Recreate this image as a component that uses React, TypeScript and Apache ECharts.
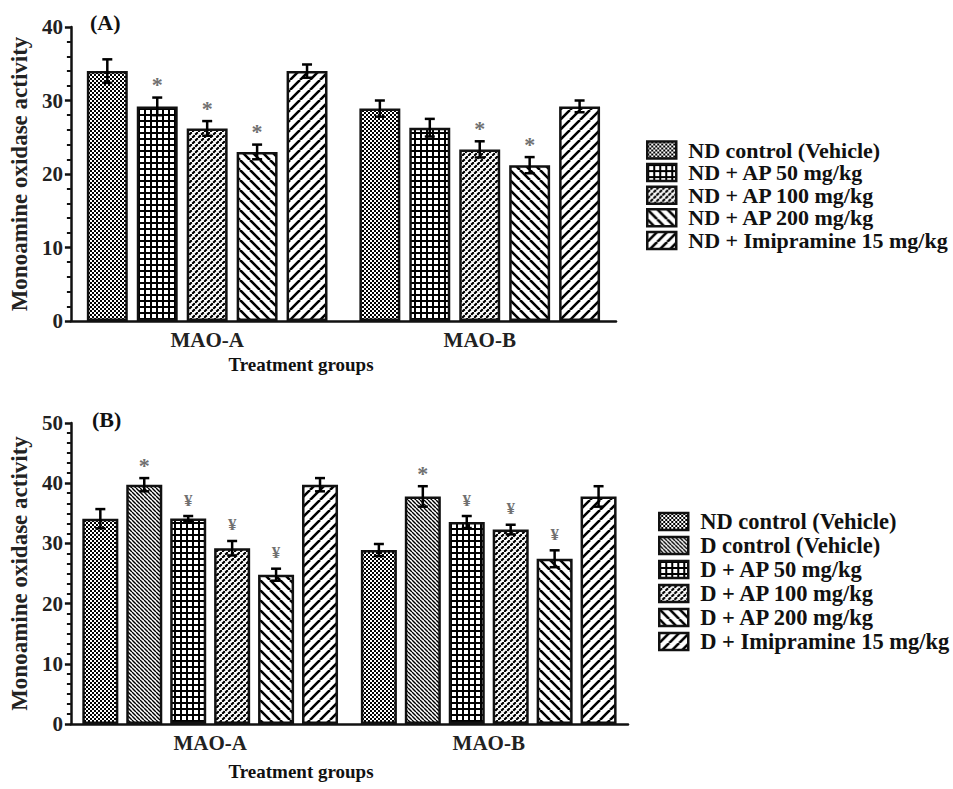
import React, { useEffect, useRef } from 'react';
import * as echarts from 'echarts';

const FONT = '"Liberation Serif", "Times New Roman", serif';

const categories = ['MAO-A', 'MAO-B'];

// Panel (A)
const yTicksA = [0, 10, 20, 30, 40];
const namesA = [
  'ND control (Vehicle)',
  'ND + AP 50 mg/kg',
  'ND + AP 100 mg/kg',
  'ND + AP 200 mg/kg',
  'ND + Imipramine 15 mg/kg',
];
const patternsA = ['ndCtrl', 'ap50', 'ap100', 'ap200', 'imip'];
const meanA_ndControl = [34.0, 28.9];
const meanA_ap50 = [29.2, 26.3];
const meanA_ap100 = [26.2, 23.35];
const meanA_ap200 = [23.0, 21.2];
const meanA_imip = [34.0, 29.2];
const semA_ndControl = [1.6, 1.1];
const semA_ap50 = [1.2, 1.2];
const semA_ap100 = [1.0, 1.1];
const semA_ap200 = [1.0, 1.1];
const semA_imip = [0.9, 0.8];
const sigA_ndControl = ['', ''];
const sigA_ap50 = ['*', ''];
const sigA_ap100 = ['*', '*'];
const sigA_ap200 = ['*', '*'];
const sigA_imip = ['', ''];

// Panel (B)
const yTicksB = [0, 10, 20, 30, 40, 50];
const namesB = [
  'ND control (Vehicle)',
  'D control (Vehicle)',
  'D + AP 50 mg/kg',
  'D + AP 100 mg/kg',
  'D + AP 200 mg/kg',
  'D + Imipramine 15 mg/kg',
];
const patternsB = ['ndCtrl', 'dCtrl', 'ap50', 'ap100', 'ap200', 'imip'];
const meanB_ndControl = [34.1, 28.9];
const meanB_dControl = [39.75, 37.8];
const meanB_ap50 = [34.15, 33.55];
const meanB_ap100 = [29.2, 32.3];
const meanB_ap200 = [24.8, 27.45];
const meanB_imip = [39.75, 37.8];
const semB_ndControl = [1.6, 1.0];
const semB_dControl = [1.1, 1.7];
const semB_ap50 = [0.4, 1.0];
const semB_ap100 = [1.2, 0.8];
const semB_ap200 = [1.0, 1.4];
const semB_imip = [1.1, 1.7];
const sigB_ndControl = ['', ''];
const sigB_dControl = ['*', '*'];
const sigB_ap50 = ['¥', '¥'];
const sigB_ap100 = ['¥', '¥'];
const sigB_ap200 = ['¥', '¥'];
const sigB_imip = ['', ''];

const meansA = [meanA_ndControl, meanA_ap50, meanA_ap100, meanA_ap200, meanA_imip];
const semsA = [semA_ndControl, semA_ap50, semA_ap100, semA_ap200, semA_imip];
const sigsA = [sigA_ndControl, sigA_ap50, sigA_ap100, sigA_ap200, sigA_imip];
const meansB = [meanB_ndControl, meanB_dControl, meanB_ap50, meanB_ap100, meanB_ap200, meanB_imip];
const semsB = [semB_ndControl, semB_dControl, semB_ap50, semB_ap100, semB_ap200, semB_imip];
const sigsB = [sigB_ndControl, sigB_dControl, sigB_ap50, sigB_ap100, sigB_ap200, sigB_imip];

function diag(c: CanvasRenderingContext2D, s: number, lw: number, dir: string, color = '#000') {
  c.lineWidth = lw;
  c.strokeStyle = color;
  c.beginPath();
  for (const k of [-s, 0, s]) {
    if (dir === '/') {
      c.moveTo(k, s);
      c.lineTo(k + s, 0);
    } else {
      c.moveTo(k, 0);
      c.lineTo(k + s, s);
    }
  }
  c.stroke();
}

function makePatterns(): Record<string, any> {
  const mk = (w: number, h: number, draw: (c: CanvasRenderingContext2D) => void) => {
    const cv = document.createElement('canvas');
    cv.width = w;
    cv.height = h;
    const c = cv.getContext('2d') as CanvasRenderingContext2D;
    c.fillStyle = '#fff';
    c.fillRect(0, 0, w, h);
    c.fillStyle = '#000';
    draw(c);
    return { image: cv, repeat: 'repeat', imageWidth: w, imageHeight: h };
  };
  return {
    ndCtrl: mk(4, 4, (c) => {
      c.fillRect(0, 0, 2, 2);
      c.fillRect(2, 2, 2, 2);
    }),
    ap50: mk(6, 6, (c) => {
      c.fillRect(0, 0, 6, 2);
      c.fillRect(0, 0, 2, 6);
    }),
    ap100: mk(6, 6, (c) => {
      diag(c, 6, 2.2, '/');
      diag(c, 6, 0.9, '\\', '#fff');
    }),
    ap200: mk(10, 10, (c) => diag(c, 10, 2.6, '\\')),
    imip: mk(10, 10, (c) => diag(c, 10, 2.6, '/')),
    dCtrl: mk(4, 4, (c) => diag(c, 4, 1.4, '\\')),
  };
}

function errorRenderer(idx: number, n: number, catGap: number, barGap: number, sig: string[]) {
  return (params: any, api: any) => {
    const cat = api.value(0);
    const mean = api.value(1);
    const sem = api.value(2);
    const band = api.size([1, 0])[0];
    const center = api.coord([cat, 0])[0];
    const w = (band - band * catGap) / (n + (n - 1) * barGap);
    const total = n * w + (n - 1) * w * barGap;
    const x = center - total / 2 + idx * w * (1 + barGap) + w / 2;
    const yT = api.coord([cat, mean + sem])[1];
    const yB = api.coord([cat, mean - sem])[1];
    const cap = 5;
    const ls = { stroke: '#000', lineWidth: 2.5 };
    const children: any[] = [
      { type: 'line', shape: { x1: x, y1: yT, x2: x, y2: yB }, style: ls },
      { type: 'line', shape: { x1: x - cap, y1: yT, x2: x + cap, y2: yT }, style: ls },
      { type: 'line', shape: { x1: x - cap, y1: yB, x2: x + cap, y2: yB }, style: ls },
    ];
    const mark = sig[params.dataIndex];
    if (mark) {
      const star = mark === '*';
      children.push({
        type: 'text',
        x,
        y: star ? yT - 13 : yT - 16,
        style: {
          text: mark,
          fill: '#707070',
          font: star ? `bold 22px ${FONT}` : `bold 17px ${FONT}`,
          align: 'center',
          verticalAlign: 'middle',
        },
      });
    }
    return { type: 'group', children };
  };
}

function buildSeries(
  names: string[],
  pats: string[],
  means: number[][],
  sems: number[][],
  sigs: string[][],
  axisIdx: number,
  catGap: number,
  barGap: number,
  patterns: Record<string, any>
) {
  const n = names.length;
  const out: any[] = [];
  names.forEach((name, i) => {
    out.push({
      type: 'bar',
      name,
      xAxisIndex: axisIdx,
      yAxisIndex: axisIdx,
      data: means[i],
      barGap: `${barGap * 100}%`,
      barCategoryGap: `${catGap * 100}%`,
      itemStyle: { color: patterns[pats[i]], borderColor: '#111', borderWidth: 2.5 },
      emphasis: { disabled: true },
      z: 2,
    });
  });
  names.forEach((name, i) => {
    out.push({
      type: 'custom',
      xAxisIndex: axisIdx,
      yAxisIndex: axisIdx,
      data: categories.map((_, c) => [c, means[i][c], sems[i][c]]),
      encode: { x: 0, y: 1 },
      renderItem: errorRenderer(i, n, catGap, barGap, sigs[i]),
      z: 5,
      silent: true,
    });
  });
  return out;
}

function xAxisCfg(gridIndex: number, margin: number) {
  return {
    type: 'category',
    gridIndex,
    data: categories,
    axisLine: { lineStyle: { color: '#111', width: 2.5 } },
    axisTick: { alignWithLabel: true, length: 7, lineStyle: { color: '#111', width: 2.5 } },
    axisLabel: { fontFamily: FONT, fontWeight: 'bold', fontSize: 21, color: '#222', margin },
    splitLine: { show: false },
  };
}

function yAxisCfg(gridIndex: number, ticks: number[], minorSplit: number) {
  return {
    type: 'value',
    gridIndex,
    min: ticks[0],
    max: ticks[ticks.length - 1],
    interval: ticks[1] - ticks[0],
    name: 'Monoamine oxidase activity',
    nameLocation: 'middle',
    nameGap: 38,
    nameTextStyle: { fontFamily: FONT, fontWeight: 'bold', fontSize: 23, color: '#222' },
    axisLine: { show: true, lineStyle: { color: '#111', width: 2.5 } },
    axisTick: { show: true, length: 6, lineStyle: { color: '#111', width: 2.5 } },
    minorTick: { show: true, splitNumber: minorSplit, length: 4, lineStyle: { color: '#111', width: 2 } },
    splitLine: { show: false },
    minorSplitLine: { show: false },
    axisLabel: { fontFamily: FONT, fontWeight: 'bold', fontSize: 21, color: '#222', margin: 8 },
  };
}

function legendCfg(names: string[], left: number, top: number, gap: number, fontSize: number) {
  return {
    data: names,
    orient: 'vertical',
    left,
    top,
    itemWidth: 29,
    itemHeight: 17,
    itemGap: gap,
    icon: 'rect',
    selectedMode: false,
    itemStyle: { borderColor: '#111', borderWidth: 2.5 },
    textStyle: {
      fontFamily: FONT,
      fontWeight: 'bold',
      fontSize,
      color: '#111',
      lineHeight: 17,
      padding: [0, 0, 0, 7],
    },
  };
}

export default function App() {
  const ref = useRef<HTMLDivElement>(null);
  useEffect(() => {
    if (!ref.current) return;
    const chart = echarts.init(ref.current, null, { renderer: 'svg' });
    const patterns = makePatterns();
    const catGapA = 0.117;
    const catGapB = 0.082;
    const barGap = 0.22;
    const option: any = {
      animation: false,
      backgroundColor: '#fff',
      grid: [
        { left: 70, top: 27, width: 546, height: 294 },
        { left: 70, top: 423, width: 558, height: 301 },
      ],
      xAxis: [xAxisCfg(0, 8), xAxisCfg(1, 8)],
      yAxis: [yAxisCfg(0, yTicksA, 5), yAxisCfg(1, yTicksB, 6)],
      legend: [legendCfg(namesA, 641, 134, 0.6, 22), legendCfg(namesB, 653, 505, 1.0, 22.5)],
      graphic: [
        { type: 'text', left: 90, top: 11, style: { text: '(A)', font: `bold 22px ${FONT}`, fill: '#111' } },
        { type: 'text', left: 92, top: 408, style: { text: '(B)', font: `bold 22px ${FONT}`, fill: '#111' } },
        {
          type: 'text',
          x: 301,
          y: 364,
          style: { text: 'Treatment groups', font: `bold 19px ${FONT}`, fill: '#111', align: 'center', verticalAlign: 'middle' },
        },
        {
          type: 'text',
          x: 301,
          y: 771,
          style: { text: 'Treatment groups', font: `bold 19px ${FONT}`, fill: '#111', align: 'center', verticalAlign: 'middle' },
        },
      ],
      series: [
        ...buildSeries(namesA, patternsA, meansA, semsA, sigsA, 0, catGapA, barGap, patterns),
        ...buildSeries(namesB, patternsB, meansB, semsB, sigsB, 1, catGapB, barGap, patterns),
      ],
    };
    chart.setOption(option);
    return () => chart.dispose();
  }, []);
  return (
    <div
      ref={ref}
      style={{ position: 'fixed', left: 0, top: 0, width: 953, height: 789, background: '#fff' }}
    />
  );
}
